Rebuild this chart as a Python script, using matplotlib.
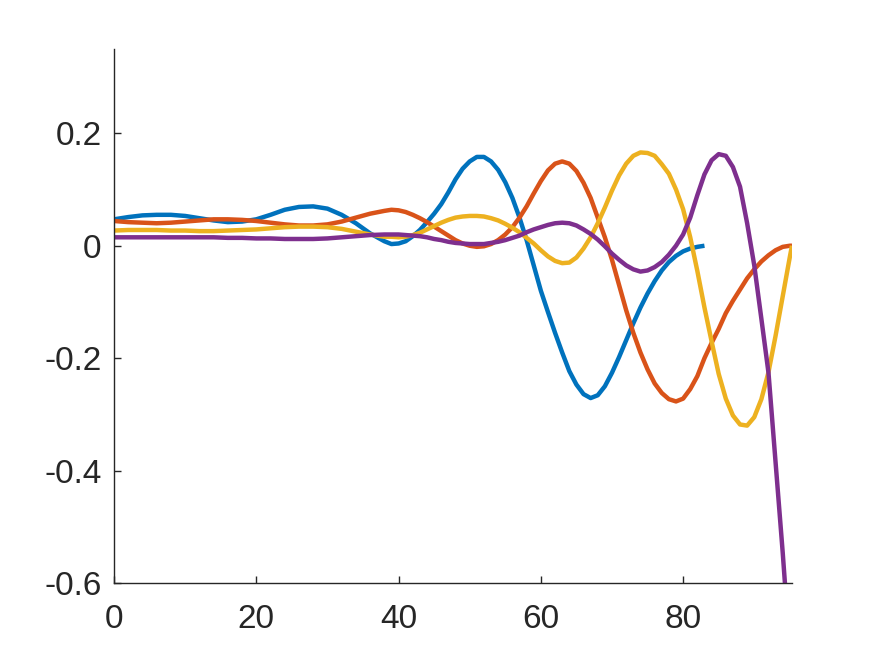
import matplotlib
matplotlib.use("Agg")
import matplotlib.pyplot as plt

# ---- data ----
x_flat = [0, 2, 4, 6, 8, 10, 12, 14, 16, 18, 20, 22, 24, 26, 28, 30, 32, 34, 36, 38]

blue_flat = [0.047, 0.051, 0.054, 0.055, 0.055, 0.053, 0.049, 0.045, 0.042, 0.043,
             0.047, 0.055, 0.064, 0.069, 0.070, 0.066, 0.055, 0.040, 0.022, 0.008]
orange_flat = [0.044, 0.042, 0.041, 0.040, 0.041, 0.043, 0.045, 0.047, 0.047, 0.046,
               0.044, 0.041, 0.038, 0.036, 0.036, 0.038, 0.043, 0.050, 0.057, 0.062]
yellow_flat = [0.027, 0.028, 0.028, 0.028, 0.027, 0.027, 0.026, 0.026, 0.027, 0.028,
               0.029, 0.031, 0.033, 0.034, 0.034, 0.033, 0.030, 0.025, 0.020, 0.016]
purple_flat = [0.015, 0.015, 0.015, 0.015, 0.015, 0.015, 0.015, 0.015, 0.014, 0.014,
               0.013, 0.013, 0.012, 0.012, 0.012, 0.013, 0.015, 0.017, 0.019, 0.020]

x_blue_tail = list(range(39, 84))
blue_tail = [0.003, 0.004, 0.008, 0.017, 0.028, 0.042, 0.057, 0.074, 0.095, 0.118,
             0.137, 0.150, 0.158, 0.158, 0.150, 0.135, 0.113, 0.085, 0.050, 0.010,
             -0.035, -0.080, -0.118, -0.155, -0.190, -0.223, -0.247, -0.264, -0.271, -0.266,
             -0.250, -0.226, -0.198, -0.168, -0.138, -0.110, -0.085, -0.063, -0.044, -0.029,
             -0.018, -0.010, -0.005, -0.002, 0.000]

x_long_tail = list(range(39, 96)) + [95.3]
orange_tail = [0.064, 0.063, 0.060, 0.055, 0.049, 0.042, 0.034, 0.026, 0.018, 0.010,
               0.004, 0.000, -0.002, -0.001, 0.003, 0.010, 0.020, 0.033, 0.050, 0.070,
               0.093, 0.115, 0.134, 0.146, 0.150, 0.146, 0.133, 0.112, 0.085, 0.050,
               0.015, -0.025, -0.070, -0.115, -0.155, -0.190, -0.220, -0.245, -0.262, -0.273,
               -0.277, -0.272, -0.255, -0.232, -0.200, -0.173, -0.148, -0.120, -0.098, -0.078,
               -0.058, -0.042, -0.028, -0.017, -0.008, -0.002, 0.000, 0.000]
yellow_tail = [0.016, 0.015, 0.016, 0.019, 0.023, 0.029, 0.035, 0.041, 0.046, 0.050,
               0.052, 0.053, 0.053, 0.052, 0.049, 0.045, 0.039, 0.032, 0.024, 0.014,
               0.004, -0.008, -0.019, -0.027, -0.031, -0.030, -0.021, -0.005, 0.015, 0.040,
               0.068, 0.098, 0.125, 0.146, 0.160, 0.166, 0.165, 0.160, 0.145, 0.128,
               0.100, 0.065, 0.015, -0.045, -0.110, -0.170, -0.228, -0.272, -0.302, -0.318,
               -0.320, -0.305, -0.273, -0.225, -0.160, -0.090, -0.020, 0.000]

x_purple_tail = list(range(39, 96))
purple_tail = [0.020, 0.020, 0.019, 0.018, 0.017, 0.015, 0.012, 0.010, 0.007, 0.005,
               0.004, 0.003, 0.003, 0.003, 0.005, 0.007, 0.010, 0.014, 0.018, 0.024,
               0.029, 0.033, 0.037, 0.040, 0.041, 0.040, 0.036, 0.029, 0.021, 0.011,
               -0.001, -0.014, -0.025, -0.035, -0.042, -0.046, -0.044, -0.038, -0.029, -0.016,
               0.000, 0.020, 0.050, 0.090, 0.127, 0.152, 0.163, 0.160, 0.140, 0.105,
               0.040, -0.035, -0.130, -0.226, -0.386, -0.546, -0.720]

x_ticks = [0, 20, 40, 60, 80]
y_ticks = [-0.6, -0.4, -0.2, 0, 0.2]
y_tick_labels = ["-0.6", "-0.4", "-0.2", "0", "0.2"]

colors = ["#0072BD", "#D95319", "#EDB120", "#7E2F8E"]

series = [
    (x_flat + x_blue_tail, blue_flat + blue_tail),
    (x_flat + x_long_tail, orange_flat + orange_tail),
    (x_flat + x_long_tail, yellow_flat + yellow_tail),
    (x_flat + x_purple_tail, purple_flat + purple_tail),
]

plt.rcParams['font.family'] = ['Liberation Sans', 'DejaVu Sans']
fig = plt.figure(figsize=(8.75, 6.56), dpi=100)
ax = fig.add_axes([0.1303, 0.1113, 0.7748, 0.8140])

for (xs, ys), c in zip(series, colors):
    ax.plot(xs, ys, color=c, linewidth=3.2, solid_joinstyle='round', solid_capstyle='butt')

ax.set_xlim(0, 95.3)
ax.set_ylim(-0.6, 0.35)
ax.set_xticks(x_ticks)
ax.set_xticklabels([str(t) for t in x_ticks])
ax.set_yticks(y_ticks)
ax.set_yticklabels(y_tick_labels)

dark = "#262626"
for s in ["top", "right"]:
    ax.spines[s].set_visible(False)
for s in ["left", "bottom"]:
    ax.spines[s].set_color(dark)
    ax.spines[s].set_linewidth(1.0)
ax.tick_params(axis='both', direction='in', length=5, width=1.0, colors=dark,
               labelsize=24, labelcolor=dark)
ax.tick_params(axis='x', pad=15)
ax.tick_params(axis='y', pad=9)

fig.savefig("out.png", dpi=100)
